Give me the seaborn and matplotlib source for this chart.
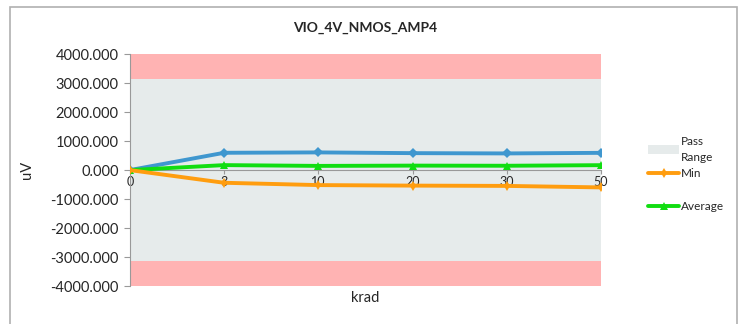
import matplotlib
matplotlib.use("Agg")
from matplotlib import pyplot as plt
from matplotlib.patches import Rectangle, Patch
from matplotlib.lines import Line2D
from matplotlib.ticker import FormatStrFormatter
import seaborn as sns
import pandas as pd

# krad categories and measured offsets (uV)
doses = ['0', '3', '10', '20', '30', '50']
vio_max = [0, 597, 610, 585, 575, 595]
vio_min = [0, -437, -517, -535, -545, -597]
vio_avg = [0, 172, 145, 155, 150, 170]
pass_limit = 3150
axis_limit = 4000

df = pd.DataFrame({'pos': list(range(len(doses))) * 3,
                   'uV': vio_max + vio_min + vio_avg,
                   'series': ['Max'] * 6 + ['Min'] * 6 + ['Average'] * 6})

colors = {'Max': '#3f97cf', 'Min': '#ff9d0f', 'Average': '#11dd11'}
markers = {'Max': 'D', 'Min': 'd', 'Average': '^'}

sns.set_style("white")
plt.rcParams['font.family'] = ['Lato', 'DejaVu Sans']
plt.rcParams['axes.unicode_minus'] = False

fig = plt.figure(figsize=(7.42, 3.24), dpi=100)
ax = fig.add_axes([0.175, 0.117, 0.635, 0.716])

# background bands
ax.axhspan(-pass_limit, pass_limit, color='#e6ebeb', zorder=0, lw=0)
ax.axhspan(pass_limit, axis_limit, color='#ffb3b3', zorder=0, lw=0)
ax.axhspan(-axis_limit, -pass_limit, color='#ffb3b3', zorder=0, lw=0)

for name in ['Max', 'Average', 'Min']:
    sub = df[df.series == name]
    sns.lineplot(data=sub, x='pos', y='uV', ax=ax, color=colors[name], lw=2.8,
                 marker=markers[name], markersize=5.5, markeredgewidth=0, zorder=3)

ax.set_xlim(0, len(doses) - 1)
ax.set_ylim(-axis_limit, axis_limit)
ax.set_yticks(range(-4000, 4001, 1000))
ax.yaxis.set_major_formatter(FormatStrFormatter('%.3f'))
ax.set_xticks(range(len(doses)))
ax.set_xticklabels(doses)

for s in ['top', 'right']:
    ax.spines[s].set_visible(False)
ax.spines['bottom'].set_position(('data', 0))
ax.spines['bottom'].set_color('#999999')
ax.spines['left'].set_color('#999999')
ax.spines['bottom'].set_zorder(2)
ax.tick_params(axis='y', direction='out', length=4, color='#999999', labelsize=10.5, pad=4, left=True)
ax.tick_params(axis='x', direction='out', length=3, color='#999999', labelsize=9, pad=1, bottom=True)

ax.set_xlabel('krad', fontsize=10.5)
ax.xaxis.set_label_coords(0.5, -0.02)
ax.set_ylabel('uV', fontsize=10.5, labelpad=12)
ax.set_title('VIO_4V_NMOS_AMP4', fontsize=10, fontweight='bold', pad=16)

handles = [Patch(facecolor='#e6ebeb', edgecolor='none'),
           Line2D([], [], color=colors['Min'], lw=2.8, marker='d', markersize=5.5, markeredgewidth=0),
           Line2D([], [], color='none'),
           Line2D([], [], color=colors['Average'], lw=2.8, marker='^', markersize=5.5, markeredgewidth=0)]
leg = fig.legend(handles, ['Pass\nRange', 'Min', '', 'Average'], loc='upper left',
                 bbox_to_anchor=(0.866, 0.6), frameon=False, fontsize=8.5, handlelength=2.6,
                 handletextpad=0.15, labelspacing=0.45, borderpad=0)
for t in leg.get_texts():
    t.set_linespacing(1.6)

fig.patches.append(Rectangle((10 / 742, -0.1), 727 / 742, 1.1 - 7 / 324, transform=fig.transFigure,
                             fill=False, edgecolor='#b0b0b0', lw=1.2))

fig.savefig('out.png', dpi=100)
